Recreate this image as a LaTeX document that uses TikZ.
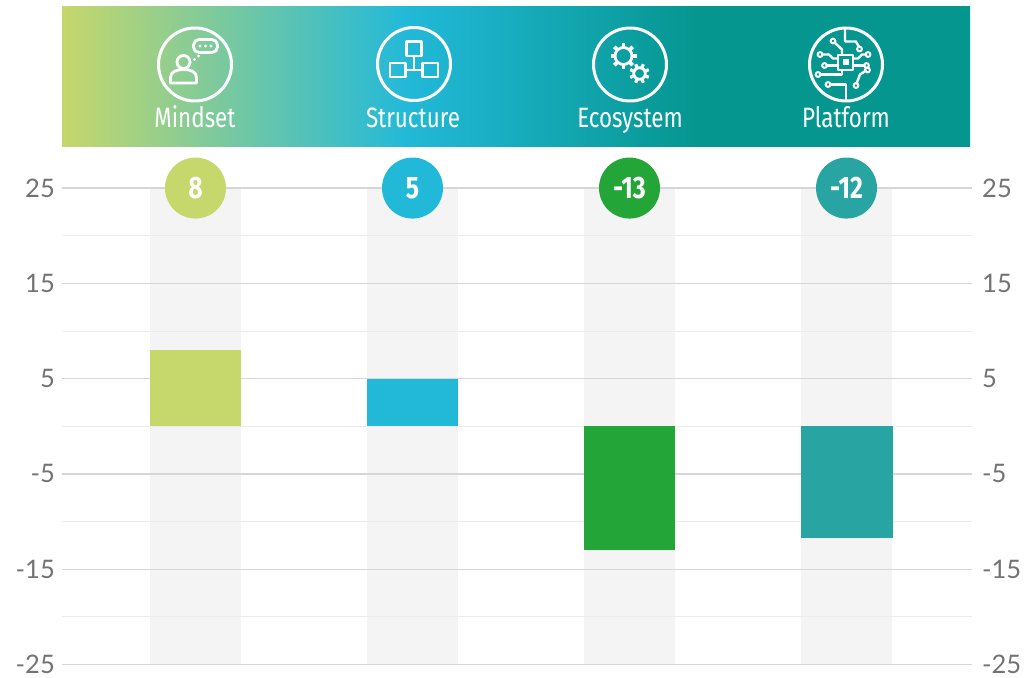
\documentclass[tikz,border=0pt]{standalone}
\usepackage{fontspec}
\setmainfont{Lato}
\newfontfamily\condfont[FakeStretch=0.8]{Fira Sans}
\definecolor{mindcol}{HTML}{C6D76C}
\definecolor{structcol}{HTML}{22B9D9}
\definecolor{ecocol}{HTML}{23A537}
\definecolor{platcol}{HTML}{28A4A2}
\definecolor{tealcol}{HTML}{05968F}
\definecolor{colbg}{HTML}{F4F4F4}
\definecolor{majorgrid}{HTML}{D6D6D6}
\definecolor{minorgrid}{HTML}{ECECEC}
\definecolor{axistext}{HTML}{737373}
\pgfdeclarehorizontalshading{headshade}{100bp}{color(0bp)=(mindcol); color(25bp)=(mindcol); color(44bp)=(structcol); color(60bp)=(tealcol); color(100bp)=(tealcol)}

\begin{document}
\begin{tikzpicture}[x=1pt, y=-1pt]

      \useasboundingbox (0,0) rectangle (1030,677);

      % header band
      \shade[shading=headshade] (62,7) rectangle (970,146);

      \begin{scope}[white, line width=2.8pt, line cap=round, line join=round]
        % mindset
        \begin{scope}[shift={(195,64.5)}]
          \draw[line width=3pt] (0,0) circle (36.5);
          \draw (-11.5,-2.5) circle (6.5);
          \draw (-24.5,18.5) -- (-24.5,13) .. controls (-24.5,7) and (-18,5) .. (-11.5,5) .. controls (-5,5) and (1.5,7) .. (1.5,13) -- (1.5,18.5) -- cycle;
          \draw[rounded corners=5.5pt] (-1.5,-25) rectangle (22.5,-12);
          \fill (5,-18.5) circle (1.6);
          \fill (10.5,-18.5) circle (1.6);
          \fill (16,-18.5) circle (1.6);
          \fill (3.5,-8.5) circle (1.6);
          \fill (-0.5,-5) circle (1.6);
        \end{scope}
        % structure
        \begin{scope}[shift={(414,64)}]
          \draw[line width=3pt] (0,0) circle (36.5);
          \draw (-7.5,-22.5) rectangle (7.5,-8);
          \draw (0,-8) -- (0,6);
          \draw (-24,-1) rectangle (-8.5,13);
          \draw (8.5,-1) rectangle (24,13);
          \draw (-8.5,6) -- (8.5,6);
        \end{scope}
        % ecosystem
        \begin{scope}[shift={(630,64.5)}]
          \draw[line width=3pt] (0,0) circle (36.5);
          \begin{scope}[shift={(-6.5,-8.5)}]
            \draw (0,0) circle (8.5);
            \foreach \a in {0,45,...,315}
              \draw[line width=3.6pt, line cap=butt] (\a:8.5) -- (\a:13);
          \end{scope}
          \begin{scope}[shift={(9.5,9)}]
            \draw (0,0) circle (5.8);
            \foreach \a in {22.5,67.5,...,337.5}
              \draw[line width=3.2pt, line cap=butt] (\a:5.8) -- (\a:10);
          \end{scope}
        \end{scope}
        % platform
        \begin{scope}[shift={(846,64.5)}, line width=2.4pt]
          \draw[line width=3pt] (0,0) circle (36.5);
          \draw (-8,-9.5) rectangle (7,5.5);
          \fill (-3.5,-5) rectangle (2.5,1);
          \draw (-1,-36.5) -- (-1,-23) -- (10,-23) -- (13,-17.5);
          \draw (-4,-9.5) -- (-4,-15) -- (-11.5,-22);
          \draw (-8,-6) -- (-13,-6) -- (-17,-10) -- (-24,-10);
          \draw (-8,1) -- (-19.5,1);
          \draw (-4,5.5) -- (-4,10) -- (-26,10);
          \draw (-16,20) -- (0,20) -- (0,36.5);
          \draw (7,-6) -- (12,-6) -- (16,-10) -- (20,-10);
          \draw (7,1) -- (18.5,1);
          \draw (20,6) -- (14,10) -- (10.5,19);
          \begin{scope}[fill=tealcol, line width=2pt]
            \draw (13.5,-15.5) circle (2.4);
            \draw (-13,-23.5) circle (2.4);
            \draw (-26,-10) circle (2.4);
            \draw (-21.5,1) circle (2.4);
            \draw (-28,10) circle (2.4);
            \draw (-18,20) circle (2.4);
            \draw (22,-10) circle (2.4);
            \draw (20.5,1) circle (2.4);
            \draw (21.5,5.5) circle (2.4);
            \draw (10,21) circle (2.4);
          \end{scope}
        \end{scope}
      \end{scope}

      \begin{scope}[every node/.style={text=white, anchor=base, inner sep=0pt, font=\condfont\fontsize{28}{28}\selectfont}]
        \node (h1) at (195,127) {Mindset};
        \node (h2) at (413,127) {Structure};
        \node (h3) at (630,127) {Ecosystem};
        \node (h4) at (846,127) {Platform};
      \end{scope}

      % chart, one unit of value per step
      \begin{scope}[shift={(0,426.3)}, yscale=-9.53]

        \fill[colbg] (150,25) rectangle (241,-25);
        \fill[colbg] (367,25) rectangle (458,-25);
        \fill[colbg] (584,25) rectangle (675,-25);
        \fill[colbg] (801,25) rectangle (892,-25);

        \begin{scope}[minorgrid, line width=1pt]
          \draw (62,20) -- (972,20);
          \draw (62,10) -- (972,10);
          \draw (62,0) -- (972,0);
          \draw (62,-10) -- (972,-10);
          \draw (62,-20) -- (972,-20);
        \end{scope}
        \begin{scope}[majorgrid, line width=1.4pt]
          \draw (62,25) -- (972,25);
          \draw (62,15) -- (972,15);
          \draw (62,5) -- (972,5);
          \draw (62,-5) -- (972,-5);
          \draw (62,-15) -- (972,-15);
          \draw (62,-25) -- (972,-25);
        \end{scope}

        \fill[mindcol] (149.5,0) rectangle (241,8);
        \fill[structcol] (366.5,0) rectangle (458,5);
        \fill[ecocol] (583.5,0) rectangle (675,-13);
        \fill[platcol] (801,0) rectangle (893,-11.7);

        \begin{scope}[every node/.style={text=axistext, inner sep=0pt, font=\fontsize{25.5}{25.5}\selectfont}]
          \node[anchor=east] (l1) at (55,25) {25};
          \node[anchor=east] (l2) at (55,15) {15};
          \node[anchor=east] (l3) at (55,5) {5};
          \node[anchor=east] (l4) at (55,-5) {-5};
          \node[anchor=east] (l5) at (55,-15) {-15};
          \node[anchor=east] (l6) at (55,-25) {-25};
          \node[anchor=west] (r1) at (982,25) {25};
          \node[anchor=west] (r2) at (982,15) {15};
          \node[anchor=west] (r3) at (982,5) {5};
          \node[anchor=west] (r4) at (982,-5) {-5};
          \node[anchor=west] (r5) at (982,-15) {-15};
          \node[anchor=west] (r6) at (982,-25) {-25};
        \end{scope}

        \begin{scope}[every node/.style={circle, minimum size=61pt, inner sep=0pt, text=white, font=\condfont\bfseries\fontsize{31}{31}\selectfont}]
          \node[fill=mindcol] (b1) at (195.5,25) {8};
          \node[fill=structcol] (b2) at (412.5,25) {5};
          \node[fill=ecocol] (b3) at (629.5,25) {-13};
          \node[fill=platcol] (b4) at (846.5,25) {-12};
        \end{scope}
      \end{scope}

    \end{tikzpicture}
\end{document}
